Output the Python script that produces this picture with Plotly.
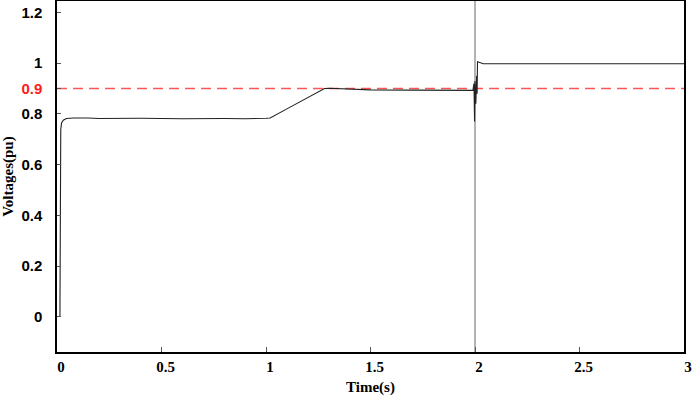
import plotly.graph_objects as go

# voltage trace
time_s = [0.014, 0.015, 0.018, 0.022, 0.03, 0.045, 0.08, 0.15, 0.2, 0.4, 0.6,
          0.8, 0.9, 1.0, 1.02, 1.1, 1.2, 1.28, 1.3, 1.4, 1.5, 1.7, 1.9, 1.99,
          1.995, 1.998, 2.0, 2.004, 2.008, 2.01, 2.012, 2.02, 2.04, 3.0]
voltage_pu = [0.0, 0.70, 0.74, 0.765, 0.775, 0.782, 0.784, 0.784, 0.782, 0.783,
              0.781, 0.782, 0.781, 0.783, 0.784, 0.820, 0.865, 0.900, 0.901,
              0.898, 0.895, 0.894, 0.893, 0.893, 0.92, 0.77, 0.93, 0.84, 0.95,
              0.88, 1.006, 1.004, 0.998, 0.998]

threshold = 0.9
event_time = 2.0
x_ticks = [0, 0.5, 1, 1.5, 2, 2.5, 3]
x_labels = ['0', '0.5', '1', '1.5', '2', '2.5', '3']
y_ticks = [0, 0.2, 0.4, 0.6, 0.8, 0.9, 1, 1.2]
y_labels = ['0', '0.2', '0.4', '0.6', '0.8',
            "<span style='color:#ff1a1a'>0.9</span>", '1', '1.2']

fig = go.Figure()

fig.add_trace(go.Scatter(
    x=[0, 3], y=[threshold, threshold], mode='lines',
    line=dict(color='#ff5555', width=1.5, dash='10px,6px'),
    showlegend=False, hoverinfo='skip',
))
fig.add_trace(go.Scatter(
    x=time_s, y=voltage_pu, mode='lines',
    line=dict(color='#222222', width=1.1),
    showlegend=False,
))

fig.add_shape(
    type='line', xref='x', yref='paper',
    x0=event_time, x1=event_time, y0=0, y1=1,
    line=dict(color='#9a9a9a', width=1.5), layer='below',
)

fig.update_layout(
    width=692, height=396, autosize=False,
    margin=dict(l=57, r=8, t=1, b=44),
    plot_bgcolor='white', paper_bgcolor='white',
    showlegend=False,
)

fig.update_xaxes(
    range=[0, 3], tickvals=x_ticks, ticktext=x_labels,
    showgrid=False, zeroline=False, automargin=False,
    showline=True, linecolor='black', linewidth=1.5, mirror=True,
    ticks='inside', ticklen=5, tickcolor='#555', tickwidth=1,
    ticklabelshift=4,
    tickfont=dict(family='Liberation Serif', size=15, color='black', weight='bold'),
    title=dict(text='Time(s)', standoff=8,
               font=dict(family='Liberation Serif', size=15, color='black', weight='bold')),
)

fig.update_yaxes(
    range=[-0.138, 1.245], tickvals=y_ticks, ticktext=y_labels,
    showgrid=False, zeroline=False, automargin=False,
    showline=True, linecolor='black', linewidth=1.5, mirror=True,
    ticks='inside', ticklen=4, tickcolor='#555', tickwidth=1,
    ticklabelstandoff=10,
    tickfont=dict(family='Liberation Sans', size=15, color='black', weight='bold'),
    title=dict(text='Voltages(pu)', standoff=6,
               font=dict(family='Liberation Serif', size=15, color='black', weight='bold')),
)

fig.write_html('out.html', config={'displayModeBar': False},
               post_script="document.body.style.margin='0';")
